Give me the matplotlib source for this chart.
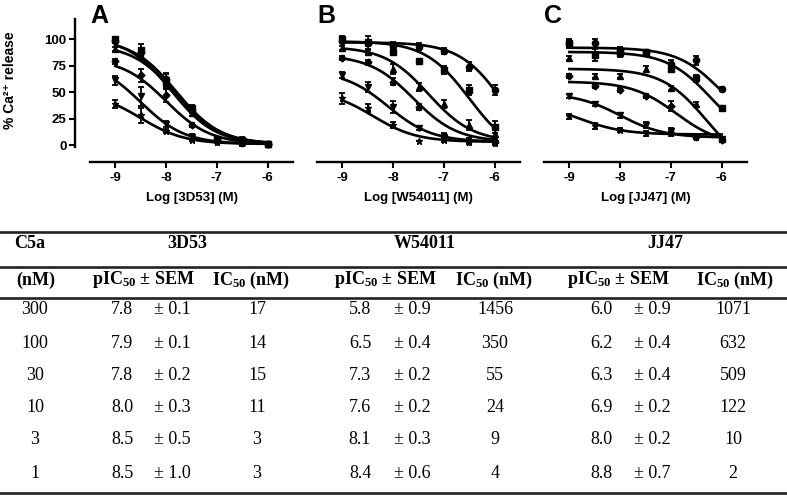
import numpy as np
import matplotlib
matplotlib.use("Agg")
import matplotlib.pyplot as plt
from matplotlib.lines import Line2D

plt.rcParams['mathtext.fontset'] = 'custom'
plt.rcParams['mathtext.rm'] = 'Liberation Serif'
plt.rcParams['mathtext.bf'] = 'Liberation Serif:bold'
plt.rcParams['mathtext.it'] = 'Liberation Serif:italic'

# concentracoes (log M) e C5a
log_conc = [-9, -8.5, -8, -7.5, -7, -6.5, -6]
c5a = ["300", "100", "30", "10", "3", "1"]
markers = ['o', 's', '^', 'D', 'v', '*']

# 3D53
p_3d53 = [7.8, 7.9, 7.8, 8.0, 8.5, 8.5]
sem_3d53 = [0.1, 0.1, 0.2, 0.3, 0.5, 1.0]
ic_3d53 = [17, 14, 15, 11, 3, 3]
resp_3d53 = [[98, 88, 62, 33, 5, 3, 1],
             [100, 90, 60, 35, 6, 5, 1],
             [91, 84, 58, 30, 5, 3, 1],
             [79, 66, 47, 19, 5, 2, 1],
             [61, 46, 20, 8, 3, 2, 1],
             [39, 28, 13, 5, 3, 2, 1]]
err_3d53 = [[2, 4, 6, 3, 2, 4, 1],
            [2, 5, 7, 3, 2, 3, 1],
            [2, 3, 5, 3, 1, 2, 1],
            [2, 6, 6, 2, 1, 1, 1],
            [4, 9, 3, 2, 1, 1, 1],
            [4, 7, 2, 1, 1, 1, 1]]
top_3d53 = [100, 102, 95, 82, 80, 50]
bot_3d53 = [1, 1, 1, 1, 1, 1]

# W54011
p_w54011 = [5.8, 6.5, 7.3, 7.6, 8.1, 8.4]
sem_w54011 = [0.9, 0.4, 0.2, 0.2, 0.3, 0.6]
ic_w54011 = [1456, 350, 55, 24, 9, 4]
resp_w54011 = [[98, 96, 94, 93, 89, 74, 52],
               [100, 97, 88, 79, 71, 52, 17],
               [92, 88, 72, 55, 39, 19, 10],
               [82, 78, 60, 36, 9, 5, 3],
               [66, 55, 36, 16, 8, 3, 2],
               [44, 35, 19, 4, 5, 3, 2]]
err_w54011 = [[2, 2, 3, 3, 3, 4, 5],
              [3, 6, 2, 2, 4, 5, 6],
              [2, 2, 5, 4, 4, 5, 4],
              [2, 2, 3, 3, 2, 2, 2],
              [3, 5, 6, 2, 2, 2, 2],
              [5, 4, 3, 0, 2, 2, 2]]
top_w54011 = [97, 98, 93, 85, 70, 52]
bot_w54011 = [-20, -10, 3, 3, 3, 3]

# JJ47
p_jj47 = [6.0, 6.2, 6.3, 6.9, 8.0, 8.8]
sem_jj47 = [0.9, 0.4, 0.4, 0.2, 0.2, 0.7]
ic_jj47 = [1071, 632, 509, 122, 10, 2]
resp_jj47 = [[96, 96, 90, 88, 77, 80, 53],
             [96, 85, 87, 88, 72, 63, 35],
             [82, 65, 65, 72, 54, 39, 6],
             [65, 56, 52, 46, 37, 8, 5],
             [46, 39, 28, 19, 13, 8, 6],
             [27, 18, 14, 11, 11, 8, 6]]
err_jj47 = [[3, 4, 3, 2, 3, 4, 2],
            [4, 6, 4, 2, 3, 3, 2],
            [2, 2, 2, 3, 2, 2, 2],
            [2, 2, 2, 2, 5, 2, 2],
            [2, 2, 2, 3, 3, 2, 2],
            [2, 3, 2, 2, 2, 2, 2]]
top_jj47 = [92, 88, 72, 60, 49, 40]
bot_jj47 = [10, 0, -25, 0, 7, 10]

W, H = 787, 496
fig = plt.figure(figsize=(W / 100, H / 100), dpi=100)
sans = ['Liberation Sans', 'DejaVu Sans']


def hill(x, top, bottom, pic50):
    return bottom + (top - bottom) / (1 + 10 ** (x + pic50))


def painel(left_px, resp, err, top, bot, pic, xlabel, letra, show_y):
    ax = fig.add_axes([left_px / W, (H - 162) / H, 203 / W, 144 / H])
    xx = np.linspace(-9, -6, 200)
    for i in range(6):
        ax.plot(xx, hill(xx, top[i], bot[i], pic[i]), color='black', lw=1.9, zorder=2)
        ms = 3.5 if markers[i] == 'D' else 4.5
        ax.errorbar(log_conc, resp[i], yerr=err[i], fmt=markers[i], color='black',
                    ms=ms, capsize=2.5, elinewidth=1.3, capthick=1.3, zorder=3)
    ax.set_xlim(-9.5, -5.5)
    ax.set_ylim(-16, 120)
    ax.spines['top'].set_visible(False)
    ax.spines['right'].set_visible(False)
    ax.spines['bottom'].set_linewidth(1.7)
    ax.set_xticks([-9, -8, -7, -6])
    ax.set_xticklabels(['-9', '-8', '-7', '-6'], fontweight='bold', fontsize=9.5, family=sans)
    ax.tick_params(axis='x', direction='out', length=4, width=1.5, pad=3)
    ax.set_xlabel(xlabel, fontweight='bold', fontsize=9.5, family=sans, labelpad=6)
    if show_y:
        ax.spines['left'].set_position(('outward', 11))
        ax.spines['left'].set_bounds(-1.5, 119)
        ax.spines['left'].set_linewidth(1.7)
        ax.set_yticks([0, 25, 50, 75, 100])
        ax.set_yticklabels(['0', '25', '50', '75', '100'], fontweight='bold', fontsize=9.5, family=sans)
        ax.tick_params(axis='y', direction='out', length=4, width=1.5, pad=2)
        ax.set_ylabel('% Ca²⁺ release', fontweight='bold', fontsize=10, family=sans)
        ax.yaxis.set_label_coords(-0.36, 0.57)
    else:
        ax.spines['left'].set_visible(False)
        ax.set_yticks([])
    ax.patch.set_alpha(0)
    fig.text(left_px / W, 1 - 16 / H, letra, fontsize=18, fontweight='bold',
             family=sans, ha='left', va='center')
    return ax


painel(90, resp_3d53, err_3d53, top_3d53, bot_3d53, p_3d53, 'Log [3D53] (M)', 'A', True)
painel(317, resp_w54011, err_w54011, top_w54011, bot_w54011, p_w54011, 'Log [W54011] (M)', 'B', False)
painel(544, resp_jj47, err_jj47, top_jj47, bot_jj47, p_jj47, 'Log [JJ47] (M)', 'C', False)


# tabela
def txt(xp, yp, s, bold=False, **kw):
    fig.text(xp / W, 1 - yp / H, s, ha='center', va='center', fontsize=13,
             family='Liberation Serif', fontweight='bold' if bold else 'normal', **kw)


for yp in [232, 267, 298, 493]:
    fig.add_artist(Line2D([0, 1], [1 - yp / H, 1 - yp / H], color='#222222', lw=1.9,
                          transform=fig.transFigure))

pic_lbl = r'pIC$_{\mathbf{50}}$ ± SEM'
ic_lbl = r'IC$_{\mathbf{50}}$ (nM)'
txt(30, 244, 'C5a', bold=True)
txt(187, 244, '3D53', bold=True)
txt(425, 244, 'W54011', bold=True)
txt(665, 244, 'JJ47', bold=True)
txt(36, 280, '(nM)', bold=True)
for xc in [143, 385, 618]:
    txt(xc, 280, pic_lbl, bold=True)
for xc in [251, 494, 735]:
    txt(xc, 280, ic_lbl, bold=True)

row_y = [310, 343, 375, 408, 440, 473]
for i, yp in enumerate(row_y):
    txt(35, yp, c5a[i])
    txt(122, yp, f'{p_3d53[i]:.1f}')
    txt(172, yp, f'± {sem_3d53[i]:.1f}')
    txt(257, yp, str(ic_3d53[i]))
    txt(360, yp, f'{p_w54011[i]:.1f}')
    txt(412, yp, f'± {sem_w54011[i]:.1f}')
    txt(495, yp, str(ic_w54011[i]))
    txt(601, yp, f'{p_jj47[i]:.1f}')
    txt(652, yp, f'± {sem_jj47[i]:.1f}')
    txt(733, yp, str(ic_jj47[i]))

fig.savefig('out.png', dpi=100)
